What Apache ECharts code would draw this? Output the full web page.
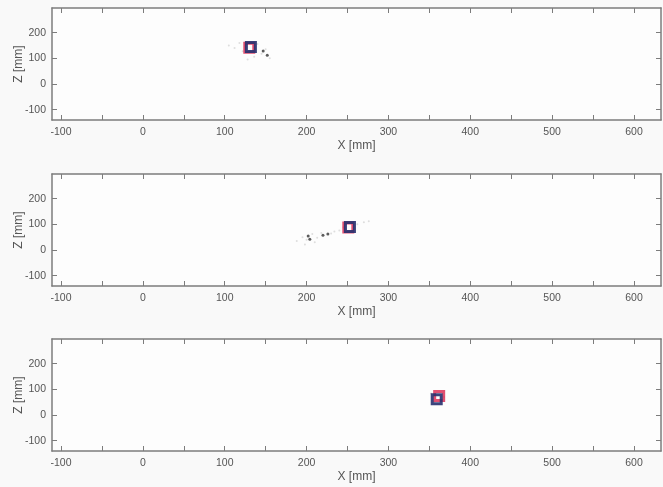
<!DOCTYPE html>
<html>
<head>
<meta charset="utf-8">
<script src="https://cdn.jsdelivr.net/npm/echarts@6/dist/echarts.min.js"></script>
<style>
html,body{margin:0;padding:0;background:#f9f9f9;}
#main{width:663px;height:487px;}
</style>
</head>
<body>
<div id="main"></div>
<script>
// axis ticks
var xTicks = [-100,-50,0,50,100,150,200,250,300,350,400,450,500,550,600];
var xLabels = [-100,0,100,200,300,400,500,600];
var zTicks = [-100,0,100,200];

// true position (red) and estimate (blue) per frame
var truePos = [[130,141],[251,88],[362,74]];
var estPos = [[132,144],[253,90],[359,61]];

// strong return points (dark)
var strong1 = [[147,129],[152,112]];
var strong2 = [[202,55],[204,42],[220,58],[226,62]];
var strong3 = [];

// faint point cloud
var cloud1 = [[105,150],[112,140],[118,160],[122,128],[140,156],[145,118],[155,100],[128,96],[136,106],[150,135]];
var cloud2 = [[188,35],[195,50],[200,40],[207,62],[213,48],[218,66],[230,64],[234,72],[240,76],[262,100],[270,108],[276,112],[198,22],[210,30],[245,88]];
var cloud3 = [[352,84],[368,70],[356,52]];

// tiny extend helper (no jQuery here)
var $ = {extend:function(a,b){var o={};for(var k in b){if(b.hasOwnProperty(k))o[k]=b[k];}for(var k2 in a){if(a.hasOwnProperty(k2))o[k2]=a[k2];}return o;}};

var chart = echarts.init(document.getElementById('main'));

var tops = [8,174,339];
var grids = [], xAxes = [], yAxes = [], series = [];
var gray = '#7c7c7c';
var txt = '#555';
var font = 'Liberation Sans, Arial, sans-serif';

function addPanel(i, cloud, strong){
	grids.push({left:52,right:2,top:tops[i],height:112,show:true,backgroundColor:'#fdfdfd',borderWidth:0,
		containLabel:false,outerBoundsMode:'none'});
	var tickBase = {show:true,inside:true,length:5,lineStyle:{color:gray,width:1}};
	xAxes.push({
		gridIndex:i,type:'value',position:'bottom',min:-111,max:633,
		axisLine:{show:true,onZero:false,lineStyle:{color:gray,width:1.5}},
		axisTick:$.extend({customValues:xTicks},tickBase),
		axisLabel:{customValues:xLabels,color:txt,fontSize:10.5,fontFamily:font,margin:7},
		splitLine:{show:false},
		name:'X [mm]',nameLocation:'middle',nameGap:20,nameMoveOverlap:false,
		nameTextStyle:{color:txt,fontSize:12,fontFamily:font}
	});
	xAxes.push({
		gridIndex:i,type:'value',position:'top',min:-111,max:633,
		axisLine:{show:true,onZero:false,lineStyle:{color:gray,width:1.5}},
		axisTick:$.extend({customValues:xTicks},tickBase),
		axisLabel:{show:false},splitLine:{show:false}
	});
	yAxes.push({
		gridIndex:i,type:'value',position:'left',min:-140,max:296,
		axisLine:{show:true,onZero:false,lineStyle:{color:gray,width:1.5}},
		axisTick:$.extend({customValues:zTicks},tickBase),
		axisLabel:{customValues:zTicks,color:txt,fontSize:10.5,fontFamily:font,margin:6},
		splitLine:{show:false},
		name:'Z [mm]',nameLocation:'middle',nameGap:27,nameRotate:90,nameMoveOverlap:false,
		nameTextStyle:{color:txt,fontSize:12,fontFamily:font}
	});
	yAxes.push({
		gridIndex:i,type:'value',position:'right',min:-140,max:296,
		axisLine:{show:true,onZero:false,lineStyle:{color:gray,width:1.5}},
		axisTick:$.extend({customValues:zTicks},tickBase),
		axisLabel:{show:false},splitLine:{show:false}
	});
	var xi = i*2, yi = i*2;
	series.push({type:'scatter',xAxisIndex:xi,yAxisIndex:yi,data:cloud,symbolSize:2,
		itemStyle:{color:'#d6d6d6'},silent:true});
	series.push({type:'scatter',xAxisIndex:xi,yAxisIndex:yi,data:strong,symbolSize:3,
		itemStyle:{color:'#333'},silent:true});
	series.push({type:'scatter',xAxisIndex:xi,yAxisIndex:yi,data:[truePos[i]],symbol:'rect',symbolSize:9,
		itemStyle:{color:'rgba(255,255,255,0)',borderColor:'#d8234e',borderWidth:3},z:3});
	series.push({type:'scatter',xAxisIndex:xi,yAxisIndex:yi,data:[estPos[i]],symbol:'rect',symbolSize:9,
		itemStyle:{color:'rgba(255,255,255,0)',borderColor:'#27306e',borderWidth:3,opacity:0.9},z:4});
}

addPanel(0, cloud1, strong1);
addPanel(1, cloud2, strong2);
addPanel(2, cloud3, strong3);

chart.setOption({
	backgroundColor:'#f9f9f9',
	animation:false,
	grid:grids,
	xAxis:xAxes,
	yAxis:yAxes,
	series:series
});
</script>
</body>
</html>
